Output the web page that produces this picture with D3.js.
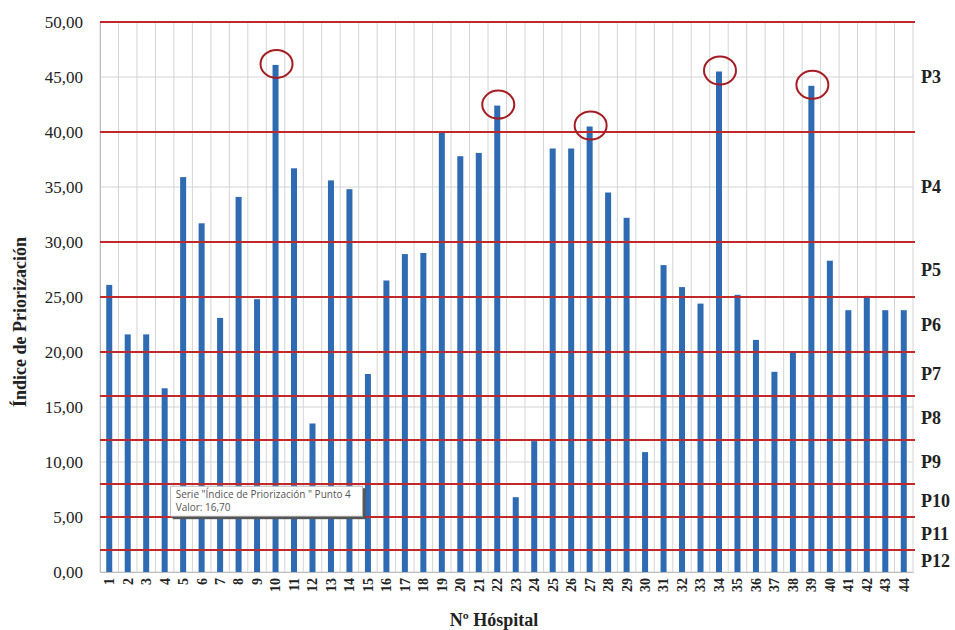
<!DOCTYPE html>
<html><head><meta charset="utf-8">
<script src="https://cdn.jsdelivr.net/npm/d3@7"></script>
<style>body{margin:0;background:#fff;}svg{display:block;}</style>
</head><body>
<script>
const hospitals = d3.range(1, 45);
const indice = [26.1,21.6,21.6,16.7,35.9,31.7,23.1,34.1,24.8,46.1,36.7,13.5,35.6,34.8,18.0,26.5,28.9,29.0,40.0,37.8,38.1,42.4,6.8,11.9,38.5,38.5,40.5,34.5,32.2,10.9,27.9,25.9,24.4,45.5,25.2,21.1,18.2,20.0,44.2,28.3,23.8,25.1,23.8,23.8];
const yTicks = [0,5,10,15,20,25,30,35,40,45,50];
const thresholds = [50,40,30,25,20,16,12,8,5,2,0];
const bandLabels = ["P3","P4","P5","P6","P7","P8","P9","P10","P11","P12"];
const circled = [10,22,27,34,39];
const tooltipLines = ["Serie \"Índice de Priorización \" Punto 4", "Valor: 16,70"];

const W = 955, H = 630;
const m = {left:100, right:42, top:22, bottom:58};
const svg = d3.select("body").append("svg").attr("width", W).attr("height", H);

const x = d3.scaleBand().domain(hospitals).range([m.left, W - m.right]).paddingInner(0.675).paddingOuter(0.3375);
const y = d3.scaleLinear().domain([0, 50]).range([H - m.bottom, m.top]);
const fmt = v => d3.format(".2f")(v).replace(".", ",");

// gray gridlines
const gx = hospitals.map((d, i) => m.left + i * x.step()).concat([W - m.right]);
svg.append("g").selectAll("line").data(gx).join("line")
  .attr("x1", d => d).attr("x2", d => d).attr("y1", y(50)).attr("y2", y(0))
  .attr("stroke", "#d4d4d4").attr("stroke-width", 1);
svg.append("g").selectAll("line").data(yTicks).join("line")
  .attr("x1", m.left).attr("x2", W - m.right).attr("y1", d => y(d)).attr("y2", d => y(d))
  .attr("stroke", "#d4d4d4").attr("stroke-width", 1);

// y axis
const yAxis = svg.append("g").attr("transform", `translate(${m.left},0)`)
  .call(d3.axisLeft(y).tickValues(yTicks).tickFormat(fmt).tickSize(0).tickPadding(17));
yAxis.select(".domain").attr("stroke", "#bdbdbd");
yAxis.selectAll("text").attr("font-family", "Liberation Serif").attr("font-size", 17).attr("fill", "#222");

// x axis
const xAxis = svg.append("g").attr("transform", `translate(0,${y(0)})`)
  .call(d3.axisBottom(x).tickSize(0).tickPadding(6));
xAxis.select(".domain").attr("stroke", "#bdbdbd");
xAxis.selectAll("text").attr("font-family", "Liberation Serif").attr("font-size", 14).attr("font-weight", "bold").attr("fill", "#222")
  .attr("text-anchor", "end").attr("dy", "0.35em")
  .attr("transform", function(){ return "rotate(-90)"; })
  .attr("x", -6).attr("y", 0);

// bars
svg.append("g").selectAll("rect").data(hospitals).join("rect")
  .attr("x", d => x(d)).attr("width", x.bandwidth())
  .attr("y", (d, i) => y(indice[i])).attr("height", (d, i) => y(0) - y(indice[i]))
  .attr("fill", "#2f6bb3");

// red threshold lines
svg.append("g").selectAll("line").data(thresholds.filter(t => t > 0)).join("line")
  .attr("x1", m.left).attr("x2", W - m.right + 2).attr("y1", d => y(d)).attr("y2", d => y(d))
  .attr("stroke", "#c0282a").attr("stroke-width", 2.2);

// band labels
svg.append("g").selectAll("text").data(bandLabels).join("text")
  .attr("x", W - m.right + 8)
  .attr("y", (d, i) => y((thresholds[i] + thresholds[i + 1]) / 2))
  .attr("dy", "0.35em")
  .attr("font-family", "Liberation Serif").attr("font-weight", "bold").attr("font-size", 18).attr("fill", "#222")
  .text(d => d);

// circles
svg.append("g").selectAll("ellipse").data(circled).join("ellipse")
  .attr("cx", d => x(d) + x.bandwidth() / 2 + 1)
  .attr("cy", d => y(indice[d - 1]) - 1)
  .attr("rx", 16).attr("ry", 14)
  .attr("fill", "none").attr("stroke", "#a51c22").attr("stroke-width", 2);

// tooltip
const tx = x(4) + x.bandwidth() + 3, ty = y(7.8);
const tt = svg.append("g").attr("transform", `translate(${tx},${ty})`);
tt.append("rect").attr("x", 2).attr("y", 2).attr("width", 193).attr("height", 31).attr("fill", "#555");
tt.append("rect").attr("x", 0).attr("y", 0).attr("width", 192).attr("height", 30).attr("fill", "#fff").attr("stroke", "#aaa").attr("stroke-width", 0.8);
tt.selectAll("text").data(tooltipLines).join("text")
  .attr("x", 5).attr("y", (d, i) => 12 + i * 13)
  .attr("font-family", "Open Sans").attr("font-size", 10).attr("fill", "#555")
  .text(d => d);

// axis titles
svg.append("text").attr("transform", `translate(26,${(y(0) + y(50)) / 2 + 25}) rotate(-90)`)
  .attr("text-anchor", "middle").attr("font-family", "Liberation Serif").attr("font-weight", "bold").attr("font-size", 18).attr("fill", "#222")
  .text("Índice de Priorización");
svg.append("text").attr("x", 494).attr("y", 626)
  .attr("text-anchor", "middle").attr("font-family", "Liberation Serif").attr("font-weight", "bold").attr("font-size", 18).attr("fill", "#222")
  .text("Nº Hóspital");
</script>
</body></html>
